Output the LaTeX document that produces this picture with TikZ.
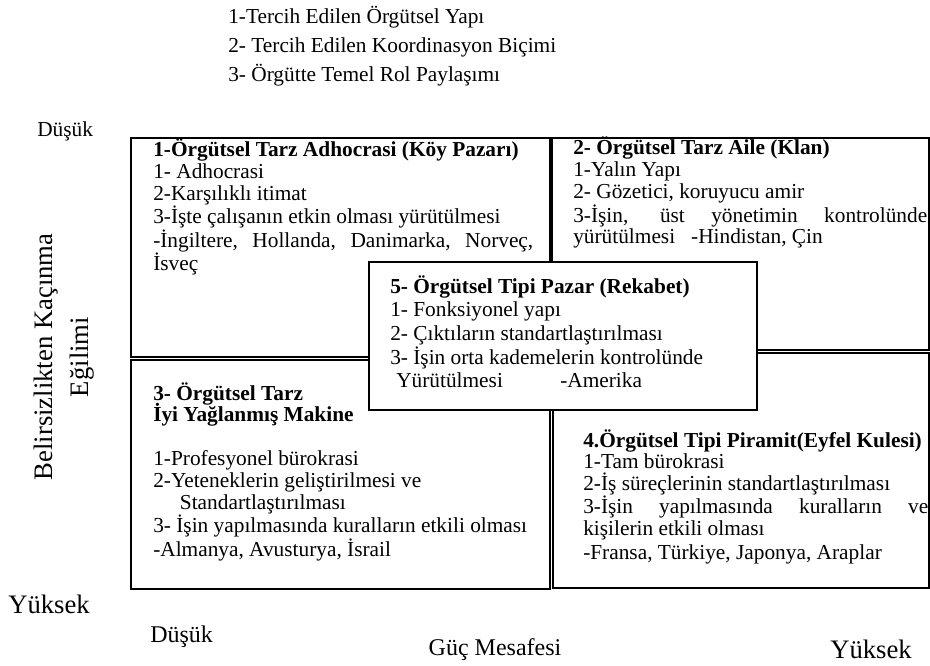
\documentclass[tikz,border=0pt]{standalone}
\usepackage{fontspec}
\setmainfont{Liberation Serif}
\begin{document}
\begin{tikzpicture}[x=0.75pt,y=-0.75pt,
  box/.style={draw=black,line width=1.5pt},
  topbox/.style={box,fill=white},
  body/.style={inner sep=0pt,anchor=base west,font=\fontsize{16}{16.2}\selectfont},
  axis/.style={inner sep=0pt,font=\fontsize{18}{21.75}\selectfont}]
\useasboundingbox (0,0) rectangle (930,666);

% header list
\node[body,font=\fontsize{16}{21.75}\selectfont] (head) at (228,24)
  {\parbox[t]{300pt}{1-Tercih Edilen Örgütsel Yapı\\
   2- Tercih Edilen Koordinasyon Biçimi\\
   3- Örgütte Temel Rol Paylaşımı}};

% quadrant frames
\draw[box] (131,138) rectangle (550,357);
\draw[box] (552,138) rectangle (929,350);
\draw[box] (131,360) rectangle (550,589);
\draw[box] (553,353) rectangle (929,588);

% quadrant 1
\node[body] (q1) at (153,157) {\parbox[t]{285pt}{%
  \textbf{1-Örgütsel Tarz Adhocrasi (Köy Pazarı)}\\
  1- Adhocrasi\\
  2-Karşılıklı itimat\\
  3-İşte çalışanın etkin olması yürütülmesi\\
  \makebox[285pt][s]{-İngiltere, Hollanda, Danimarka, Norveç,}\\
  İsveç}};

% quadrant 2
\node[body,font=\fontsize{16}{16.3}\selectfont] (q2) at (573,155) {\parbox[t]{265.5pt}{%
  \textbf{2- Örgütsel Tarz Aile (Klan)}\\
  1-Yalın Yapı\\
  2- Gözetici, koruyucu amir\\
  \makebox[265.5pt][s]{3-İşin, üst yönetimin kontrolünde}\\
  yürütülmesi\hspace{12pt}-Hindistan, Çin}};

% quadrant 3
\node[body,font=\fontsize{16}{16.3}\selectfont] (q3) at (153,400) {\parbox[t]{300pt}{%
  \textbf{3- Örgütsel Tarz}\\[-2pt]
  \textbf{İyi Yağlanmış Makine}\\[16.7pt]
  1-Profesyonel bürokrasi\\
  2-Yeteneklerin geliştirilmesi ve\\
  \hspace*{20pt}Standartlaştırılması\\
  3- İşin yapılmasında kuralların etkili olması\\
  -Almanya, Avusturya, İsrail}};

% quadrant 4
\node[body,font=\fontsize{16}{16.3}\selectfont] (q4) at (583,447) {\parbox[t]{258.75pt}{%
  \textbf{4.Örgütsel Tipi Piramit(Eyfel Kulesi)}\\
  1-Tam bürokrasi\\
  2-İş süreçlerinin standartlaştırılması\\
  \makebox[258.75pt][s]{3-İşin yapılmasında kuralların ve}\\
  kişilerin etkili olması\\[1.5pt]
  -Fransa, Türkiye, Japonya, Araplar}};

% central overlapping box
\draw[topbox] (369,262) rectangle (757,410);
\node[body,font=\fontsize{16}{17.8}\selectfont] (q5) at (390,293) {\parbox[t]{280pt}{%
  \textbf{5- Örgütsel Tipi Pazar (Rekabet)}\\
  1- Fonksiyonel yapı\\
  2- Çıktıların standartlaştırılması\\
  3- İşin orta kademelerin kontrolünde\\
  \hspace*{4.5pt}\makebox[123pt][l]{Yürütülmesi}-Amerika}};

% vertical axis
\node[axis,anchor=base west,font=\fontsize{16}{18}\selectfont] (ylow) at (37,137) {Düşük};
\node[axis,anchor=base west,font=\fontsize{20}{24}\selectfont] (yhigh) at (8,613) {Yüksek};
\node[axis,rotate=90,align=center,font=\fontsize{20}{27}\selectfont] (ytitle) at (64,357)
  {Belirsizlikten Kaçınma\\Eğilimi};

% horizontal axis
\node[axis,anchor=base west] (xlow) at (150,642) {Düşük};
\node[axis,anchor=base] (xtitle) at (495,655) {Güç Mesafesi};
\node[axis,anchor=base west,font=\fontsize{20}{24}\selectfont] (xhigh) at (830,658) {Yüksek};
\end{tikzpicture}
\end{document}
